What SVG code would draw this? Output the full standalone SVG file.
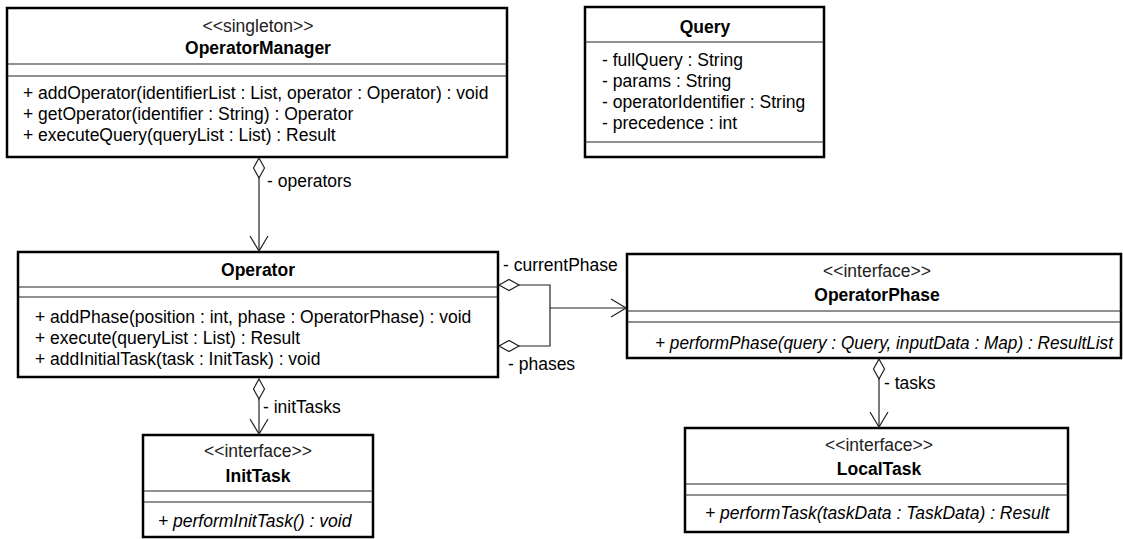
<svg xmlns="http://www.w3.org/2000/svg" width="1123" height="539" viewBox="0 0 1123 539">
<defs>
<style>
text { font-family: "Liberation Sans", Arial, sans-serif; font-size: 17.5px; fill: #000; }
.name { font-weight: bold; text-anchor: middle; }
.stereo { text-anchor: middle; fill: #222; }
.abs { font-style: italic; }
.box { fill: #fff; stroke: #000; stroke-width: 2.5; }
.sep { stroke: #222; stroke-width: 1.2; }
.conn { fill: none; stroke: #222; stroke-width: 1.2; }
</style>
<marker id="diamond" markerUnits="userSpaceOnUse" markerWidth="24" markerHeight="14" refX="1" refY="7" orient="auto" overflow="visible">
<path d="M1,7 L11,1.5 L21,7 L11,12.5 Z" fill="#fff" stroke="#222" stroke-width="1.2"/>
</marker>
<marker id="arrow" markerUnits="userSpaceOnUse" markerWidth="20" markerHeight="20" refX="16" refY="10" orient="auto" overflow="visible">
<path d="M1,1 L16,10 L1,19" fill="none" stroke="#222" stroke-width="1.2"/>
</marker>
</defs>
<rect width="1123" height="539" fill="#fff"/>

<g id="OperatorManager">
<rect class="box" x="7" y="8" width="500" height="149"/>
<line class="sep" x1="7" y1="64" x2="507" y2="64"/>
<line class="sep" x1="7" y1="76" x2="507" y2="76"/>
<text class="stereo" x="258" y="32">&lt;&lt;singleton&gt;&gt;</text>
<text class="name" x="258" y="54">OperatorManager</text>
<text x="23" y="99">+ addOperator(identifierList : List, operator : Operator) : void</text>
<text x="23" y="120">+ getOperator(identifier : String) : Operator</text>
<text x="23" y="141">+ executeQuery(queryList : List) : Result</text>
</g>

<g id="Query">
<rect class="box" x="585" y="7" width="239" height="150"/>
<line class="sep" x1="585" y1="42" x2="824" y2="42"/>
<line class="sep" x1="585" y1="142" x2="824" y2="142"/>
<text class="name" x="705" y="33">Query</text>
<text x="602" y="66">- fullQuery : String</text>
<text x="602" y="87">- params : String</text>
<text x="602" y="108">- operatorIdentifier : String</text>
<text x="602" y="129">- precedence : int</text>
</g>

<g id="Operator">
<rect class="box" x="18" y="252" width="480" height="125"/>
<line class="sep" x1="18" y1="287" x2="498" y2="287"/>
<line class="sep" x1="18" y1="297" x2="498" y2="297"/>
<text class="name" x="258" y="276">Operator</text>
<text x="35" y="323">+ addPhase(position : int, phase : OperatorPhase) : void</text>
<text x="35" y="344">+ execute(queryList : List) : Result</text>
<text x="35" y="365">+ addInitialTask(task : InitTask) : void</text>
</g>

<g id="OperatorPhase">
<rect class="box" x="627" y="254" width="494" height="104"/>
<line class="sep" x1="627" y1="311" x2="1121" y2="311"/>
<line class="sep" x1="627" y1="322" x2="1121" y2="322"/>
<text class="stereo" x="877" y="277">&lt;&lt;interface&gt;&gt;</text>
<text class="name" x="877" y="301">OperatorPhase</text>
<text class="abs" x="655" y="349" textLength="458" lengthAdjust="spacingAndGlyphs">+ performPhase(query : Query, inputData : Map) : ResultList</text>
</g>

<g id="InitTask">
<rect class="box" x="143" y="435" width="230" height="102"/>
<line class="sep" x1="143" y1="491" x2="373" y2="491"/>
<line class="sep" x1="143" y1="502" x2="373" y2="502"/>
<text class="stereo" x="258" y="457">&lt;&lt;interface&gt;&gt;</text>
<text class="name" x="258" y="482">InitTask</text>
<text class="abs" x="158" y="527">+ performInitTask() : void</text>
</g>

<g id="LocalTask">
<rect class="box" x="685" y="428" width="383" height="104"/>
<line class="sep" x1="685" y1="484" x2="1068" y2="484"/>
<line class="sep" x1="685" y1="495" x2="1068" y2="495"/>
<text class="stereo" x="879" y="451">&lt;&lt;interface&gt;&gt;</text>
<text class="name" x="879" y="475">LocalTask</text>
<text class="abs" x="705" y="519">+ performTask(taskData : TaskData) : Result</text>
</g>

<g id="connectors">
<path class="conn" d="M259,158 L259,251" marker-start="url(#diamond)" marker-end="url(#arrow)"/>
<path class="conn" d="M259,379 L259,434" marker-start="url(#diamond)" marker-end="url(#arrow)"/>
<path class="conn" d="M879,359 L879,427" marker-start="url(#diamond)" marker-end="url(#arrow)"/>
<path class="conn" d="M499,285 L550,285 L550,308 L626,308" marker-start="url(#diamond)" marker-end="url(#arrow)"/>
<path class="conn" d="M499,346 L550,346 L550,308" marker-start="url(#diamond)"/>
<text x="267" y="187">- operators</text>
<text x="263" y="413">- initTasks</text>
<text x="884" y="389">- tasks</text>
<text x="503" y="271">- currentPhase</text>
<text x="508" y="370">- phases</text>
</g>
</svg>
